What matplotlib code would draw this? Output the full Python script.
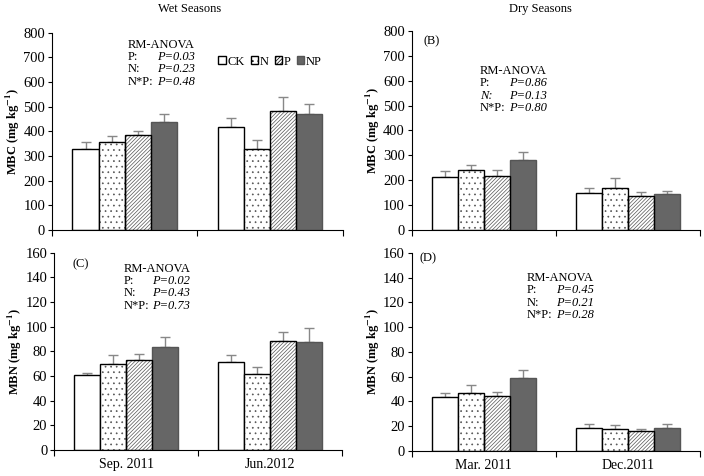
import numpy as np
import matplotlib
matplotlib.use('Agg')
import matplotlib.pyplot as plt
from matplotlib.patches import Patch

plt.rcParams['font.family'] = ['Liberation Serif', 'DejaVu Serif']
plt.rcParams['mathtext.fontset'] = 'stix'
plt.rcParams['hatch.linewidth'] = 0.5

treatments = ['CK', 'N', 'P', 'NP']

# MBC (mg/kg), wet seasons
wet_dates = ['Sep. 2011', 'Jun.2012']
mbc_wet = [[330, 358, 385, 437], [418, 328, 483, 470]]
mbc_wet_err = [[25, 25, 15, 35], [37, 39, 57, 42]]

# MBC, dry seasons
dry_dates = ['Mar. 2011', 'Dec.2011']
mbc_dry = [[212, 240, 218, 283], [147, 170, 135, 145]]
mbc_dry_err = [[23, 22, 22, 30], [23, 40, 17, 10]]

# MBN (mg/kg)
mbn_wet = [[61, 70, 73, 83.5], [71, 61.5, 88.5, 87.5]]
mbn_wet_err = [[1.5, 7, 5, 8.5], [6, 5.5, 7, 11.5]]
mbn_dry = [[43.5, 46.5, 44, 58.5], [18.5, 17.5, 16, 18]]
mbn_dry_err = [[3.5, 6.5, 3.5, 7], [3.5, 3.5, 1.5, 3.5]]

anova_labels = ['P:', 'N:', 'N*P:']
anova_a = ['P=0.03', 'P=0.23', 'P=0.48']
anova_b = ['P=0.86', 'P=0.13', 'P=0.80']
anova_c = ['P=0.02', 'P=0.43', 'P=0.73']
anova_d = ['P=0.45', 'P=0.21', 'P=0.28']

faces = ['white', 'white', 'white', '#666666']
hatches = [None, '...', '/////////', None]
hatch_cols = ['black', '#555555', '#555555', 'black']

fig = plt.figure(figsize=(7.04, 4.76), dpi=100)
positions = [
    [0.074, 0.517, 0.413, 0.414],
    [0.585, 0.517, 0.409, 0.418],
    [0.077, 0.055, 0.409, 0.414],
    [0.585, 0.053, 0.409, 0.416],
]


def draw_panel(ax, vals, errs, dates, ymax, ystep, ylabel):
    width = 0.18
    for j in range(4):
        x = np.arange(2) + (j - 1.5) * width
        h = [vals[0][j], vals[1][j]]
        e = [errs[0][j], errs[1][j]]
        ax.errorbar(x, h, yerr=[[0, 0], e], fmt='none', ecolor='#888888',
                    elinewidth=1, capsize=3.5, capthick=1, zorder=1)
        if hatches[j]:
            ax.bar(x, h, width, color='white', edgecolor=hatch_cols[j],
                   hatch=hatches[j], linewidth=0, zorder=2)
            ax.bar(x, h, width, fill=False, edgecolor='black', linewidth=1, zorder=3)
        else:
            ax.bar(x, h, width, color=faces[j], edgecolor='black' if j == 0 else '#555555',
                   linewidth=1, zorder=2)
    ax.set_xlim(-0.5, 1.5)
    ax.set_ylim(0, ymax)
    ax.set_yticks(np.arange(0, ymax + 1, ystep))
    ax.set_xticks([-0.5, 0.5, 1.5], minor=False)
    ax.set_xticklabels([])
    ax.set_xticks([0, 1], minor=True)
    ax.set_xticklabels(dates, minor=True, fontsize=10)
    ax.tick_params(axis='x', which='minor', length=0, pad=6)
    ax.tick_params(axis='x', which='major', length=4, direction='out')
    ax.tick_params(axis='y', length=3, labelsize=10.5, pad=2)
    for s in ['top', 'right']:
        ax.spines[s].set_visible(False)
    ax.set_ylabel(ylabel, fontsize=9, fontweight='bold', labelpad=1)


def anova(ax, x, y, vals, step=0.063, off=0.1):
    ax.text(x, y, 'RM-ANOVA', transform=ax.transAxes, fontsize=9, va='center')
    for i in range(3):
        ax.text(x, y - (i + 1) * step, anova_labels[i], transform=ax.transAxes,
                fontsize=9, va='center', style='italic' if (vals is anova_b and i == 1) else 'normal')
        ax.text(x + off, y - (i + 1) * step, vals[i], transform=ax.transAxes,
                fontsize=9, va='center', style='italic')


axA = fig.add_axes(positions[0])
draw_panel(axA, mbc_wet, mbc_wet_err, [], 800, 100, r'MBC (mg kg$^{\mathbf{-1}}$)')
axA.set_xticklabels([], minor=True)
anova(axA, 0.26, 0.94, anova_a)
handles = [Patch(facecolor='white', edgecolor='black', hatch=hatches[j], label=treatments[j])
           if j < 3 else Patch(facecolor=faces[j], edgecolor='#555555', label=treatments[j])
           for j in range(4)]
axA.legend(handles=handles, loc='center', bbox_to_anchor=(0.75, 0.853), ncol=4, frameon=False,
           fontsize=9, handlelength=0.6, handleheight=0.6, handletextpad=0.15, columnspacing=0.45)

axB = fig.add_axes(positions[1])
draw_panel(axB, mbc_dry, mbc_dry_err, [], 800, 100, r'MBC (mg kg$^{\mathbf{-1}}$)')
axB.set_xticklabels([], minor=True)
axB.text(0.042, 0.95, '(B)', transform=axB.transAxes, fontsize=9, va='center')
anova(axB, 0.236, 0.80, anova_b)

fig.text(190 / 704, 1 - 9 / 476, 'Wet Seasons', fontsize=9, ha='center', va='center')
fig.text(540 / 704, 1 - 9 / 476, 'Dry Seasons', fontsize=9, ha='center', va='center')

axC = fig.add_axes(positions[2])
draw_panel(axC, mbn_wet, mbn_wet_err, wet_dates, 160, 20, r'MBN (mg kg$^{\mathbf{-1}}$)')
axC.text(0.062, 0.944, '(C)', transform=axC.transAxes, fontsize=9, va='center')
anova(axC, 0.24, 0.92, anova_c)

axD = fig.add_axes(positions[3])
draw_panel(axD, mbn_dry, mbn_dry_err, dry_dates, 160, 20, r'MBN (mg kg$^{\mathbf{-1}}$)')
axD.text(0.028, 0.97, '(D)', transform=axD.transAxes, fontsize=9, va='center')
anova(axD, 0.40, 0.874, anova_d)

fig.savefig('out.png', dpi=100)
